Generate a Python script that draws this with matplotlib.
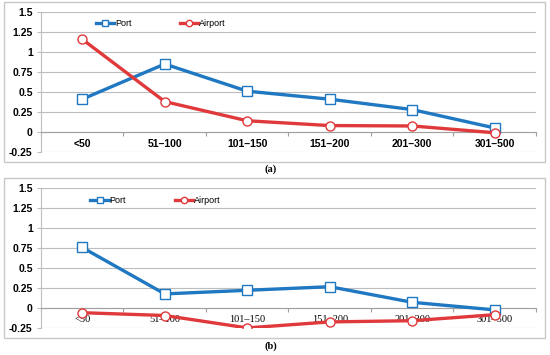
import matplotlib.pyplot as plt
from matplotlib.patches import Rectangle

# ----- Data -----
categories = ["<50", "51\u2013100", "101\u2013150", "151\u2013200", "201\u2013300", "301\u2013500"]

port_a = [0.41, 0.85, 0.51, 0.41, 0.28, 0.05]
airport_a = [1.16, 0.38, 0.14, 0.08, 0.075, -0.01]

port_b = [0.76, 0.18, 0.225, 0.27, 0.075, -0.02]
airport_b = [-0.055, -0.09, -0.245, -0.17, -0.155, -0.08]

yticks = [-0.25, 0, 0.25, 0.5, 0.75, 1, 1.25, 1.5]
ytick_labels = ["-0.25", "0", "0.25", "0.5", "0.75", "1", "1.25", "1.5"]

BLUE = "#1f78c1"
RED = "#e0393b"
GRID = "#bdbdbd"


def draw_panel(ax, port, airport, bold_cats, leg_x):
    x = [i + 0.5 for i in range(len(categories))]
    ax.plot(x, port, color=BLUE, lw=2.4, marker="s", ms=6.5,
            mfc="white", mec=BLUE, mew=1.0, label="Port", zorder=3)
    ax.plot(x, airport, color=RED, lw=2.4, marker="o", ms=6.5,
            mfc="white", mec=RED, mew=1.0, label="Airport", zorder=3)

    ax.set_xlim(0, len(categories))
    ax.set_ylim(-0.25, 1.5)
    ax.set_yticks(yticks)
    ax.set_yticklabels(ytick_labels, fontsize=7.5, fontweight="bold",
                       family="Liberation Sans")
    ax.yaxis.grid(True, color=GRID, lw=0.8)
    ax.set_axisbelow(True)

    for s in ["top", "right"]:
        ax.spines[s].set_visible(False)
    ax.spines["left"].set_color(GRID)
    ax.spines["bottom"].set_position(("data", 0))
    ax.spines["bottom"].set_color("#a0a0a0")
    ax.tick_params(axis="y", length=3, color=GRID, pad=3)

    # boundary ticks on the zero line, labels centered between them
    ax.set_xticks(range(len(categories) + 1))
    ax.set_xticklabels([])
    ax.set_xticks(x, minor=True)
    ax.set_xticklabels(categories, minor=True, fontsize=7.5,
                       fontweight="bold" if bold_cats else "normal",
                       family="Liberation Sans" if bold_cats else "Liberation Serif")
    ax.tick_params(axis="x", which="major", length=3, color="#a0a0a0")
    ax.tick_params(axis="x", which="minor", length=0, pad=5)

    ax.legend(loc="center left", bbox_to_anchor=(leg_x, 0.915), ncol=2,
              frameon=False, handlelength=2.0, handletextpad=0.1,
              columnspacing=5.4, borderpad=0, borderaxespad=0,
              markerscale=0.7, prop={"family": "Liberation Sans", "size": 6.5})


fig = plt.figure(figsize=(5.5, 3.55), dpi=100)

ax_a = fig.add_axes([0.0745, 0.572, 0.9, 0.394])
ax_b = fig.add_axes([0.0745, 0.0752, 0.9, 0.3944])

draw_panel(ax_a, port_a, airport_a, True, 0.111)
draw_panel(ax_b, port_b, airport_b, False, 0.1)

# outer panel frames
for y0, y1 in [(2, 162), (178, 338)]:
    fig.patches.append(Rectangle((4 / 550, 1 - y1 / 355), 541 / 550, (y1 - y0) / 355,
                                 transform=fig.transFigure, fill=False,
                                 edgecolor="#c8c8c8", lw=1.0))

fig.text(271 / 550, 1 - 169 / 355, "(a)", ha="center", va="center",
         fontsize=7.5, fontweight="bold", family="Liberation Serif")
fig.text(271 / 550, 1 - 346 / 355, "(b)", ha="center", va="center",
         fontsize=7.5, fontweight="bold", family="Liberation Serif")

fig.savefig("out.png", dpi=100)
plt.close()
